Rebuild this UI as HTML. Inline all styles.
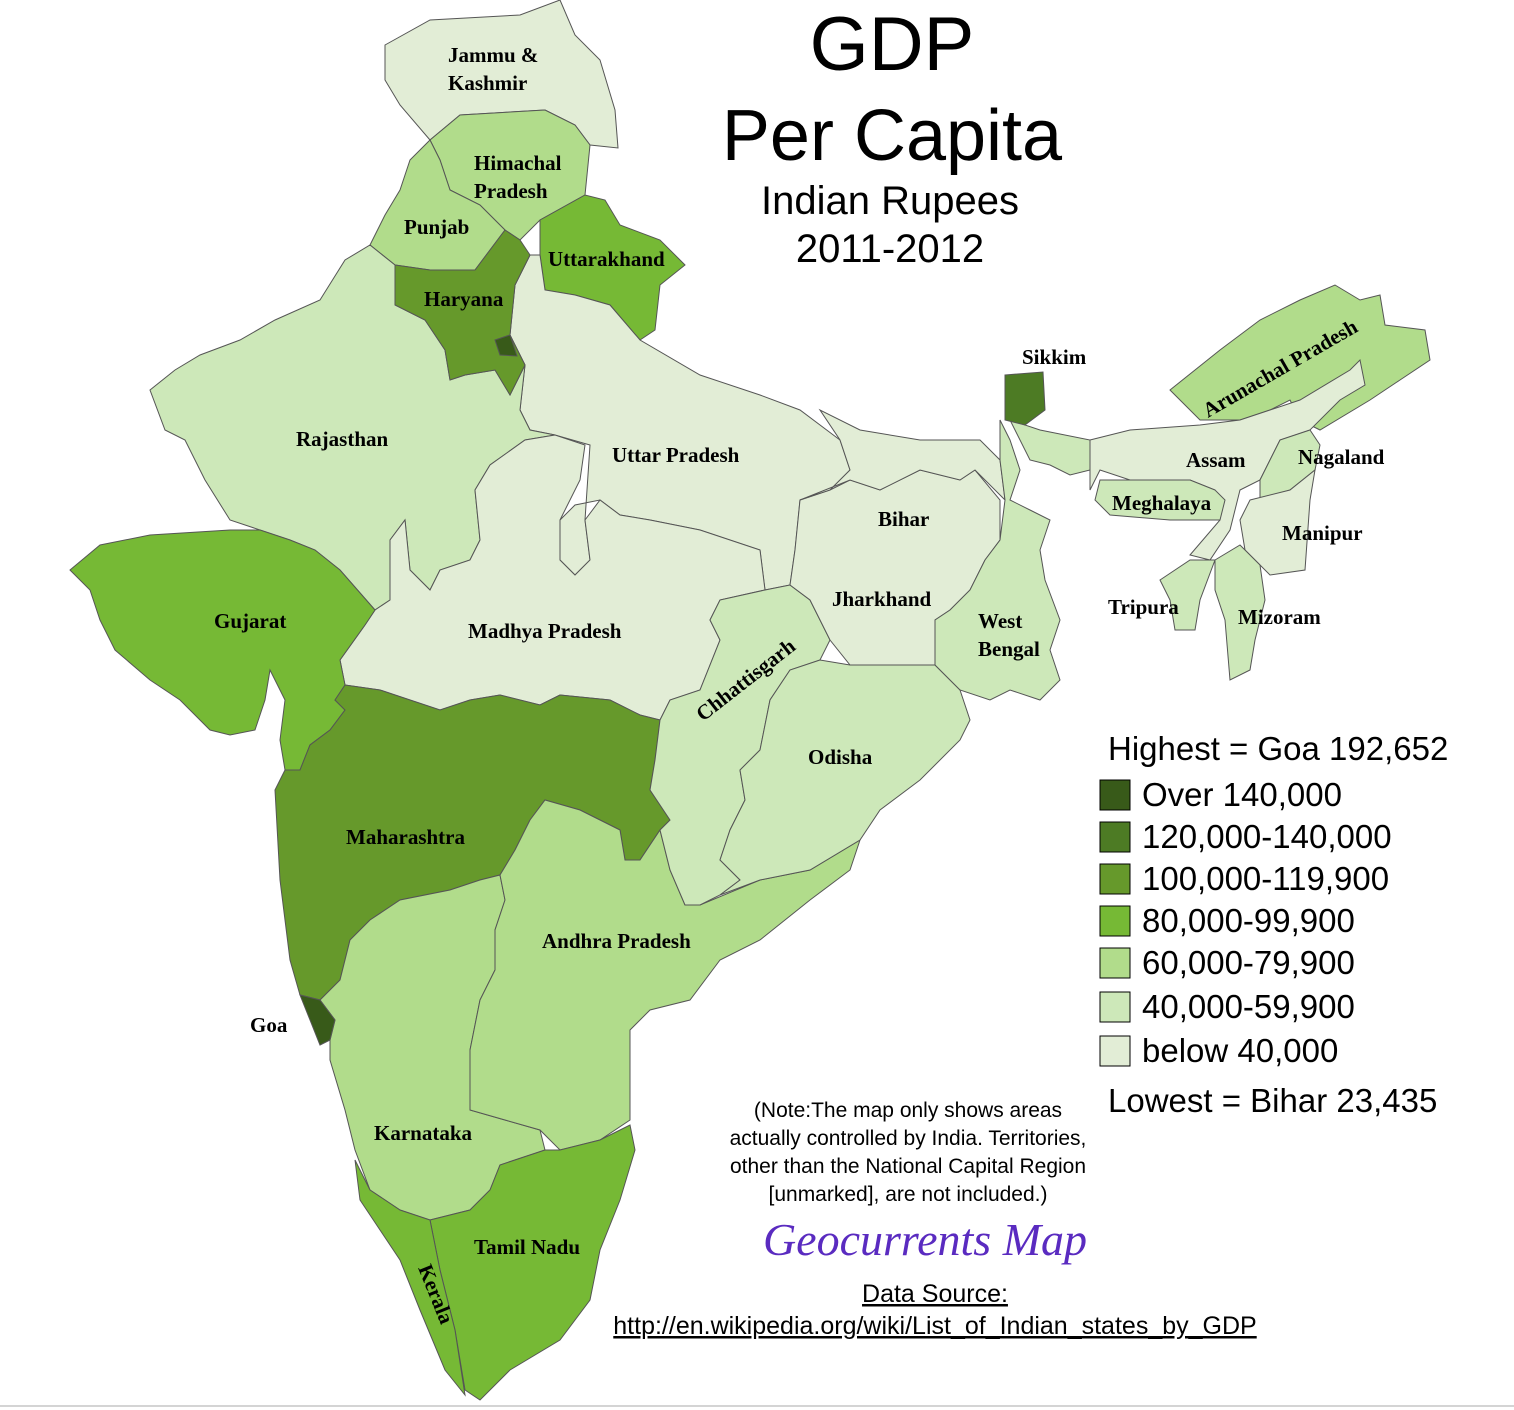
<!DOCTYPE html>
<html><head><meta charset="utf-8"><style>
body{margin:0;background:#fff}
svg{display:block}
.s{stroke:#555;stroke-width:1}
.l{font-family:"Liberation Serif",serif;font-weight:bold;font-size:21px;fill:#000}
.t{font-family:"Liberation Sans",sans-serif;fill:#000}
</style></head><body>
<svg width="1514" height="1410" viewBox="0 0 1514 1410">
<g class="s">
<polygon fill="#e2edd6" points="385,45 430,20 520,15 560,0 575,35 600,60 615,110 618,148 590,145 575,125 545,110 460,115 430,140 400,105 385,80"/>
<polygon fill="#b1dc8b" points="430,140 460,115 545,110 575,125 590,145 585,195 540,220 520,240 505,230 480,205 450,190 440,160"/>
<polygon fill="#b1dc8b" points="410,160 430,140 440,160 450,190 480,205 505,230 475,270 430,270 395,265 370,245 385,215 400,190"/>
<polygon fill="#76b935" points="540,220 585,195 605,200 620,225 660,240 685,265 660,285 655,330 640,340 610,305 575,295 545,290 540,255"/>
<polygon fill="#e2edd6" points="515,285 530,255 540,255 545,290 575,295 610,305 640,340 700,375 760,395 800,410 840,440 850,470 830,490 800,500 795,550 790,585 765,590 760,550 700,530 650,520 620,515 600,500 575,505 560,520 560,560 575,575 590,560 585,520 590,445 555,435 530,430 520,410 525,365 510,335"/>
<polygon fill="#cde8b9" points="150,390 175,370 200,355 240,340 275,320 320,300 345,260 370,245 395,265 395,305 425,320 445,350 450,380 465,375 495,370 510,395 525,365 520,410 530,430 555,435 525,440 490,465 475,490 480,540 470,560 440,570 430,590 410,570 405,520 390,540 390,600 375,610 340,570 315,550 290,540 260,530 230,520 205,480 185,440 165,430"/>
<polygon fill="#66992b" points="395,265 430,270 475,270 505,230 520,240 530,255 515,285 510,335 525,365 510,395 495,370 465,375 450,380 445,350 425,320 395,305"/>
<polygon fill="#385a19" points="495,340 510,335 517,356 500,355"/>
<polygon fill="#e2edd6" points="390,540 405,520 410,570 430,590 440,570 470,560 480,540 475,490 490,465 525,440 555,435 585,445 580,480 560,520 560,560 575,575 590,560 585,520 600,500 620,515 650,520 700,530 760,550 765,590 720,600 710,620 720,640 700,690 670,700 660,720 640,715 610,700 560,695 540,705 500,695 470,700 440,710 410,700 380,690 345,685 340,660 365,625 375,610 390,600"/>
<polygon fill="#76b935" points="70,570 100,545 150,535 230,530 260,530 290,540 315,550 340,570 375,610 365,625 340,660 345,685 335,700 345,710 330,730 310,745 300,770 285,770 280,740 285,700 270,670 265,700 255,730 230,735 210,730 180,700 150,680 115,650 100,620 90,590 75,575"/>
<polygon fill="#66992b" points="275,790 285,770 300,770 310,745 330,730 345,710 335,700 345,685 380,690 410,700 440,710 470,700 500,695 540,705 560,695 610,700 640,715 660,720 655,760 650,790 670,820 660,830 640,860 625,860 620,830 580,810 545,800 530,820 515,850 500,875 480,880 450,890 400,900 370,920 350,940 340,980 320,1000 300,995 290,960 280,880"/>
<polygon fill="#b1dc8b" points="320,1000 340,980 350,940 370,920 400,900 450,890 480,880 500,875 505,900 495,930 495,970 480,1000 470,1050 470,1110 505,1120 540,1130 545,1150 500,1165 490,1190 470,1210 430,1220 400,1210 370,1190 355,1150 345,1110 330,1060 330,1040 335,1020"/>
<polygon fill="#b1dc8b" points="515,850 530,820 545,800 580,810 620,830 625,860 640,860 660,830 670,870 685,905 700,905 760,880 810,870 860,840 850,870 810,900 760,940 720,960 690,1000 650,1010 630,1030 630,1120 600,1140 560,1150 540,1130 505,1120 470,1110 470,1050 480,1000 495,970 495,930 505,900 500,875"/>
<polygon fill="#76b935" points="470,1210 490,1190 500,1165 545,1150 560,1150 600,1140 630,1125 635,1150 620,1200 600,1250 590,1300 560,1340 510,1370 480,1400 465,1390 455,1330 440,1270 430,1220"/>
<polygon fill="#76b935" points="370,1190 400,1210 430,1220 440,1270 455,1330 465,1395 445,1370 420,1310 400,1260 380,1230 360,1200 355,1160"/>
<polygon fill="#385a19" points="300,995 320,1000 335,1020 330,1040 320,1045 310,1020"/>
<polygon fill="#cde8b9" points="720,600 765,590 790,585 810,600 830,640 820,660 790,670 770,700 760,750 740,770 745,800 730,830 720,860 740,880 720,895 700,905 685,905 670,870 660,830 670,820 650,790 655,760 660,720 670,700 700,690 720,640 710,620"/>
<polygon fill="#cde8b9" points="760,750 770,700 790,670 820,660 850,665 900,665 935,665 960,690 970,720 960,740 920,780 880,810 860,840 810,870 760,880 720,895 740,880 720,860 730,830 745,800 740,770"/>
<polygon fill="#e2edd6" points="790,585 795,550 800,500 830,490 850,480 880,490 920,470 960,480 975,470 1000,500 1000,540 985,560 970,590 950,610 935,620 935,665 900,665 850,665 830,640 810,600"/>
<polygon fill="#e2edd6" points="800,500 830,490 850,470 840,440 820,410 860,430 920,440 980,440 1000,460 1005,500 975,470 960,480 920,470 880,490 850,480"/>
<polygon fill="#cde8b9" points="1000,420 1010,440 1020,470 1010,500 1030,510 1050,520 1040,550 1045,580 1060,620 1050,650 1060,680 1040,700 1010,690 990,700 960,690 935,665 935,620 950,610 970,590 985,560 1000,540 1005,500 1000,460"/>
<polygon fill="#cde8b9" points="1010,420 1040,430 1090,440 1090,470 1070,475 1050,465 1030,460"/>
<polygon fill="#4d7b24" points="1005,375 1043,372 1045,410 1025,425 1005,420"/>
<polygon fill="#b1dc8b" points="1170,390 1220,350 1260,320 1300,300 1335,285 1360,300 1380,295 1385,325 1425,330 1430,360 1400,380 1370,400 1320,430 1300,420 1290,400 1270,410 1240,420 1200,420"/>
<polygon fill="#e2edd6" points="1090,440 1130,430 1200,425 1240,420 1270,410 1300,400 1350,370 1360,360 1365,385 1340,400 1310,430 1280,440 1260,480 1240,490 1230,530 1210,560 1190,555 1220,520 1215,490 1190,480 1130,480 1100,470 1090,490"/>
<polygon fill="#cde8b9" points="1100,480 1130,480 1190,480 1215,490 1225,500 1220,520 1170,520 1110,515 1095,500"/>
<polygon fill="#cde8b9" points="1280,440 1310,430 1320,445 1315,470 1290,490 1260,500 1260,480"/>
<polygon fill="#e2edd6" points="1250,500 1290,490 1315,470 1310,500 1305,570 1270,575 1245,550 1240,520"/>
<polygon fill="#cde8b9" points="1215,560 1240,545 1260,565 1265,600 1255,640 1250,670 1230,680 1225,620 1215,590"/>
<polygon fill="#cde8b9" points="1160,580 1190,560 1215,560 1200,600 1195,630 1175,630 1170,600"/>
</g>
<g class="l">
<text x="448" y="62">Jammu &amp;</text><text x="448" y="90">Kashmir</text>
<text x="474" y="170">Himachal</text><text x="474" y="198">Pradesh</text>
<text x="404" y="234">Punjab</text>
<text x="548" y="266">Uttarakhand</text>
<text x="424" y="306">Haryana</text>
<text x="296" y="446">Rajasthan</text>
<text x="612" y="462">Uttar Pradesh</text>
<text x="878" y="526">Bihar</text>
<text x="1022" y="364">Sikkim</text>
<text x="1186" y="467">Assam</text>
<text x="1298" y="464">Nagaland</text>
<text x="1112" y="510">Meghalaya</text>
<text x="1282" y="540">Manipur</text>
<text x="1108" y="614">Tripura</text>
<text x="1238" y="624">Mizoram</text>
<text x="214" y="628">Gujarat</text>
<text x="468" y="638">Madhya Pradesh</text>
<text x="832" y="606">Jharkhand</text>
<text x="978" y="628">West</text><text x="978" y="656">Bengal</text>
<text x="808" y="764">Odisha</text>
<text x="346" y="844">Maharashtra</text>
<text x="542" y="948">Andhra Pradesh</text>
<text x="250" y="1032">Goa</text>
<text x="374" y="1140">Karnataka</text>
<text x="474" y="1254">Tamil Nadu</text>
<text transform="translate(703,722) rotate(-38)">Chhattisgarh</text>
<text transform="translate(1208,418) rotate(-30)">Arunachal Pradesh</text>
<text transform="translate(418,1268) rotate(68)">Kerala</text>
</g>
<g class="t" text-anchor="middle">
<text x="892" y="70" font-size="76">GDP</text>
<text x="892" y="160" font-size="72">Per Capita</text>
<text x="890" y="214" font-size="40">Indian Rupees</text>
<text x="890" y="262" font-size="40">2011-2012</text>
<text x="908" y="1117" font-size="21">(Note:The map only shows areas</text>
<text x="908" y="1145" font-size="21">actually controlled by India. Territories,</text>
<text x="908" y="1173" font-size="21">other than the National Capital Region</text>
<text x="908" y="1201" font-size="21">[unmarked], are not included.)</text>
<text x="935" y="1302" font-size="25" text-decoration="underline">Data Source:</text>
<text x="935" y="1334" font-size="25" text-decoration="underline">http://en.wikipedia.org/wiki/List_of_Indian_states_by_GDP</text>
</g>
<text x="925" y="1255" text-anchor="middle" font-family="Liberation Serif,serif" font-style="italic" font-size="46" fill="#5a2bc0">Geocurrents Map</text>
<g class="t" font-size="33">
<text x="1108" y="760">Highest = Goa 192,652</text>
<rect x="1100" y="780" width="30" height="30" fill="#385a19" stroke="#000"/><text x="1142" y="806">Over 140,000</text>
<rect x="1100" y="822" width="30" height="30" fill="#4d7b24" stroke="#000"/><text x="1142" y="848">120,000-140,000</text>
<rect x="1100" y="864" width="30" height="30" fill="#66992b" stroke="#000"/><text x="1142" y="890">100,000-119,900</text>
<rect x="1100" y="906" width="30" height="30" fill="#76b935" stroke="#000"/><text x="1142" y="932">80,000-99,900</text>
<rect x="1100" y="948" width="30" height="30" fill="#b1dc8b" stroke="#000"/><text x="1142" y="974">60,000-79,900</text>
<rect x="1100" y="992" width="30" height="30" fill="#cde8b9" stroke="#000"/><text x="1142" y="1018">40,000-59,900</text>
<rect x="1100" y="1036" width="30" height="30" fill="#e2edd6" stroke="#000"/><text x="1142" y="1062">below 40,000</text>
<text x="1108" y="1112">Lowest = Bihar 23,435</text>
</g>
<line x1="0" y1="1406" x2="1514" y2="1406" stroke="#aaa"/>
</svg>
</body></html>
